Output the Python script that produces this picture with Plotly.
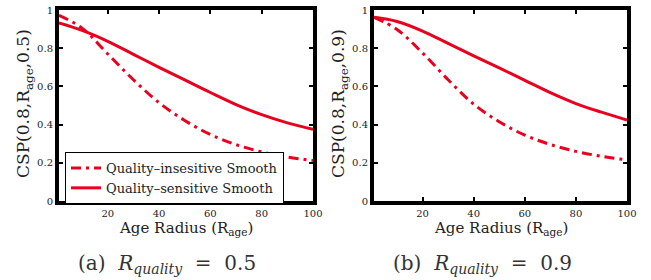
import plotly.graph_objects as go

# ---- data ----
age_radius = [1, 10, 20, 30, 40, 50, 60, 70, 80, 90, 100]
insens_a = [0.972, 0.905, 0.77, 0.635, 0.515, 0.422, 0.348, 0.295, 0.257, 0.23, 0.212]
sens_a = [0.932, 0.893, 0.836, 0.768, 0.700, 0.634, 0.568, 0.505, 0.452, 0.409, 0.375]
insens_b = [0.962, 0.898, 0.775, 0.635, 0.507, 0.415, 0.345, 0.296, 0.26, 0.234, 0.215]
sens_b = [0.962, 0.94, 0.89, 0.825, 0.76, 0.697, 0.632, 0.567, 0.51, 0.465, 0.424]
x_ticks = [20, 40, 60, 80, 100]
y_ticks = [0, 0.2, 0.4, 0.6, 0.8, 1]
y_ticktext = ["0", "0.2", "0.4", "0.6", "0.8", "1"]
legend_names = ["Quality–insesitive Smooth", "Quality–sensitive Smooth"]

RED = "rgb(232,0,30)"
FONT = "DejaVu Serif"
W, H = 651, 280

fig = go.Figure()
for xa, ya, ins, sen, show in [("x", "y", insens_a, sens_a, True),
                               ("x2", "y2", insens_b, sens_b, False)]:
    fig.add_trace(go.Scatter(x=age_radius, y=ins, mode="lines", xaxis=xa, yaxis=ya,
                             name=legend_names[0], showlegend=show,
                             line=dict(color=RED, width=3, dash="10px,5px,3px,5px", shape="spline")))
    fig.add_trace(go.Scatter(x=age_radius, y=sen, mode="lines", xaxis=xa, yaxis=ya,
                             name=legend_names[1], showlegend=show,
                             line=dict(color=RED, width=3, shape="spline")))

def px_x(p):
    return p / W

def px_y(p):
    return 1 - p / H

ydom = [px_y(201), px_y(10)]
common_x = dict(range=[1, 100], tickvals=x_ticks, showline=True, linewidth=4, linecolor="black",
                mirror="ticks", ticks="inside", ticklen=4, tickwidth=1.5, tickcolor="black",
                showgrid=False, zeroline=False, automargin=False,
                tickfont=dict(family=FONT, size=10, color="#222"))
common_y = dict(range=[0, 1], tickvals=y_ticks, ticktext=y_ticktext, showline=True, linewidth=4,
                linecolor="black", mirror="ticks", ticks="inside", ticklen=4, tickwidth=1.5,
                tickcolor="black", showgrid=False, zeroline=False, domain=ydom, automargin=False,
                tickfont=dict(family=FONT, size=10, color="#222"))

fig.update_layout(
    template="none",
    width=W, height=H, margin=dict(l=0, r=0, t=0, b=0, pad=0, autoexpand=False),
    paper_bgcolor="white", plot_bgcolor="white",
    xaxis=dict(domain=[px_x(59), px_x(313)], anchor="y", **common_x),
    yaxis=dict(anchor="x", **common_y),
    xaxis2=dict(domain=[px_x(374), px_x(627)], anchor="y2", **common_x),
    yaxis2=dict(anchor="x2", **common_y),
    legend=dict(x=px_x(65), y=px_y(152), xanchor="left", yanchor="top",
                bgcolor="white", bordercolor="black", borderwidth=1,
                font=dict(family=FONT, size=13, color="#222"),
                tracegroupgap=0, itemwidth=30),
    showlegend=True,
)

ann = []
for cx in [186, 501]:
    ann.append(dict(text="Age Radius (R<sub>age</sub>)", x=px_x(cx), y=px_y(228), xref="paper",
                    yref="paper", showarrow=False, xanchor="center", yanchor="middle",
                    font=dict(family=FONT, size=15, color="#222")))
for cx, lab in [(24, "0.5"), (339, "0.9")]:
    ann.append(dict(text="CSP(0.8,R<sub>age</sub>,%s)" % lab, x=px_x(cx), y=px_y(104),
                    xref="paper", yref="paper", showarrow=False, textangle=-90,
                    xanchor="center", yanchor="middle",
                    font=dict(family=FONT, size=17, color="#222")))
NB = "\u00a0"
for cx, tag, lab in [(167, "(a)", "0.5"), (482, "(b)", "0.9")]:
    ann.append(dict(text="%s%s<i>R</i><sub><i>quality</i></sub>%s=%s%s" % (tag, NB * 2, NB * 2, NB * 2, lab),
                    x=px_x(cx), y=px_y(264), xref="paper", yref="paper", showarrow=False,
                    xanchor="center", yanchor="middle",
                    font=dict(family=FONT, size=20, color="#333")))
fig.update_layout(annotations=ann)

fig.write_html("out.html", config={"displayModeBar": False},
               post_script="document.body.style.margin='0px';")
